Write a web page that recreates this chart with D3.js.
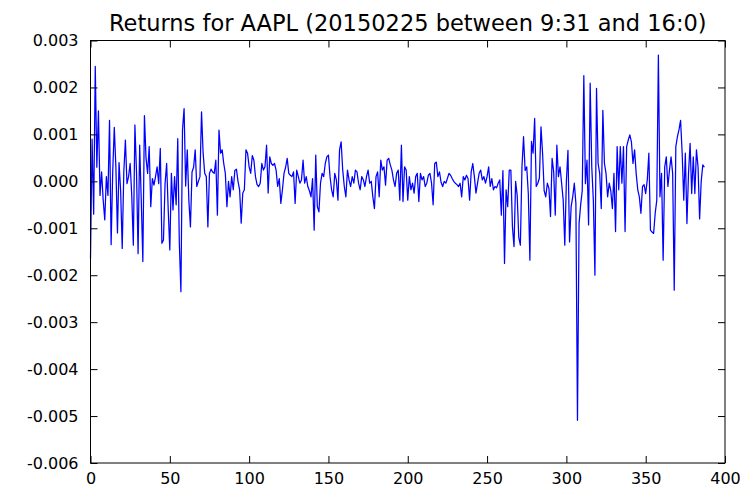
<!DOCTYPE html>
<html>
<head>
<meta charset="utf-8">
<script src="https://cdn.jsdelivr.net/npm/d3@7"></script>
<style>
html,body{margin:0;padding:0;background:#fff;}
svg{display:block;}
text{font-family:"DejaVu Sans",sans-serif;}
</style>
</head>
<body>
<script>
const titleText = "Returns for AAPL (20150225 between 9:31 and 16:0)";
const xTicks = [0, 50, 100, 150, 200, 250, 300, 350, 400];
const yTicks = [0.003, 0.002, 0.001, 0.000, -0.001, -0.002, -0.003, -0.004, -0.005, -0.006];
const returns = [
-0.00165,0.00090,-0.00070,0.00245,0.00030,0.00150,-0.00030,0.00020,-0.00040,-0.00082,
0.00010,-0.00030,0.00130,-0.00135,0.00020,0.00115,0.00030,-0.00110,0.00040,-0.00020,
-0.00143,0.00020,0.00088,-0.00005,0.00010,0.00038,-0.00030,-0.00136,0.00120,0.00020,
-0.00154,0.00077,-0.00040,-0.00171,0.00140,0.00050,0.00017,0.00074,-0.00054,0.00006,
-0.00008,0.00010,0.00031,-0.00005,0.00070,-0.00132,-0.00125,-0.00005,0.00038,-0.00061,
-0.00146,0.00017,-0.00061,0.00010,-0.00050,0.00091,-0.00132,-0.00235,0.00110,0.00155,
-0.00010,0.00067,-0.00040,-0.00097,0.00020,0.00030,0.00067,-0.00011,0.00000,0.00010,
0.00148,0.00060,0.00017,0.00010,-0.00097,0.00017,0.00026,0.00020,0.00017,0.00045,
-0.00072,0.00109,0.00060,0.00067,0.00038,0.00017,-0.00054,0.00000,-0.00033,0.00010,
-0.00018,0.00023,0.00026,0.00000,-0.00018,-0.00089,-0.00025,-0.00018,0.00067,0.00060,
0.00031,0.00017,0.00055,0.00045,0.00010,-0.00007,-0.00011,-0.00004,0.00038,0.00024,
0.00031,0.00077,-0.00025,0.00052,0.00038,0.00034,0.00038,0.00024,-0.00011,0.00006,
-0.00047,-0.00018,0.00017,0.00030,0.00049,0.00017,0.00013,0.00010,0.00020,-0.00047,
0.00024,0.00010,-0.00004,0.00003,0.00045,-0.00004,0.00010,-0.00011,-0.00020,-0.00033,
0.00006,-0.00104,0.00056,-0.00054,-0.00065,-0.00004,0.00017,0.00010,0.00038,0.00052,
0.00056,0.00010,-0.00018,-0.00033,0.00017,0.00003,-0.00040,0.00067,0.00084,0.00024,
-0.00011,-0.00033,0.00024,0.00003,-0.00011,0.00010,-0.00004,0.00024,0.00020,-0.00004,
-0.00018,0.00010,0.00003,-0.00011,0.00010,0.00024,-0.00004,0.00000,-0.00033,-0.00058,
0.00010,0.00020,-0.00033,0.00045,0.00024,0.00031,-0.00008,0.00045,0.00049,0.00035,
0.00024,0.00003,-0.00011,0.00017,0.00024,-0.00040,0.00077,-0.00043,0.00031,0.00024,
-0.00040,0.00010,-0.00018,-0.00004,-0.00025,0.00010,0.00017,-0.00043,0.00017,0.00003,
0.00010,-0.00011,-0.00004,0.00013,0.00017,-0.00004,-0.00050,0.00038,0.00041,0.00010,
0.00020,-0.00002,-0.00011,0.00000,-0.00004,0.00006,0.00017,0.00013,0.00006,0.00000,
-0.00004,-0.00007,-0.00011,-0.00004,-0.00033,0.00010,0.00003,0.00013,0.00006,-0.00040,
0.00020,0.00038,0.00010,-0.00025,-0.00004,0.00017,0.00024,0.00003,0.00010,-0.00004,
0.00010,0.00031,-0.00011,0.00006,-0.00018,-0.00011,-0.00014,-0.00004,0.00003,-0.00072,
0.00023,-0.00175,-0.00018,-0.00054,0.00024,0.00024,-0.00097,-0.00139,0.00000,-0.00030,
-0.00120,-0.00136,0.00030,0.00095,0.00023,0.00031,-0.00026,-0.00168,0.00085,0.00060,
0.00134,-0.00011,-0.00004,0.00007,0.00116,0.00060,-0.00020,-0.00033,-0.00004,-0.00015,
-0.00075,0.00049,0.00020,-0.00072,0.00077,0.00010,0.00031,-0.00004,-0.00040,-0.00136,
0.00000,0.00066,-0.00129,-0.00054,-0.00033,-0.00004,-0.00047,-0.00509,-0.00090,-0.00050,
-0.00020,0.00225,-0.00005,0.00045,-0.00093,0.00209,0.00031,-0.00040,-0.00200,0.00198,
0.00038,0.00017,-0.00058,0.00151,0.00038,0.00017,-0.00033,-0.00004,-0.00020,-0.00058,
0.00017,-0.00107,0.00074,-0.00018,0.00074,-0.00004,0.00074,-0.00107,0.00074,0.00088,
0.00099,0.00084,0.00038,0.00067,0.00017,-0.00018,-0.00033,-0.00068,-0.00011,-0.00007,
-0.00026,0.00003,0.00060,-0.00104,-0.00108,-0.00111,-0.00068,-0.00040,0.00269,-0.00033,
0.00017,-0.00168,0.00031,0.00052,-0.00011,0.00024,0.00052,0.00017,-0.00232,0.00074,
0.00095,0.00110,0.00130,0.00060,-0.00040,0.00060,-0.00090,0.00017,0.00081,-0.00026,
0.00052,-0.00026,0.00067,0.00031,-0.00080,0.00000,0.00035,0.00030
];

const W = 740, H = 487;
const m = {left: 90.5, right: 15, top: 40.5, bottom: 24};
const iw = W - m.left - m.right, ih = H - m.top - m.bottom;

const svg = d3.select("body").append("svg").attr("width", W).attr("height", H);
const g = svg.append("g").attr("transform", `translate(${m.left},${m.top})`);

const x = d3.scaleLinear().domain([0, 400]).range([0, iw]);
const y = d3.scaleLinear().domain([-0.006, 0.003]).range([ih, 0]);

const fmtY = d => d3.format(".3f")(d).replace("\u2212", "-");
const tickLen = 7;
const fs = "16px";

// line
g.append("path")
  .datum(returns)
  .attr("fill", "none")
  .attr("stroke", "#0000ff")
  .attr("stroke-width", 1.25)
  .attr("stroke-linejoin", "round")
  .attr("d", d3.line().x((d, i) => x(i)).y(d => y(d)));

// axes (ticks inward on all sides)
const styleAxis = sel => {
  sel.select(".domain").remove();
  sel.selectAll(".tick line").attr("stroke", "#000").attr("stroke-width", 1);
  sel.selectAll(".tick text").attr("font-size", fs).attr("font-family", "DejaVu Sans").attr("fill", "#000");
};

g.append("g").attr("transform", `translate(0,${ih})`)
  .call(d3.axisBottom(x).tickValues(xTicks).tickSize(-tickLen).tickPadding(10).tickFormat(d3.format("d")))
  .call(styleAxis);
g.append("g")
  .call(d3.axisTop(x).tickValues(xTicks).tickSize(-tickLen).tickFormat(""))
  .call(styleAxis);
g.append("g")
  .call(d3.axisLeft(y).tickValues(yTicks).tickSize(-tickLen).tickPadding(12).tickFormat(fmtY))
  .call(styleAxis);
g.append("g").attr("transform", `translate(${iw},0)`)
  .call(d3.axisRight(y).tickValues(yTicks).tickSize(-tickLen).tickFormat(""))
  .call(styleAxis);

// frame
g.append("rect").attr("x", 0).attr("y", 0).attr("width", iw).attr("height", ih)
  .attr("fill", "none").attr("stroke", "#000").attr("stroke-width", 1);

// title
svg.append("text")
  .attr("x", m.left + iw / 2).attr("y", 30.5)
  .attr("text-anchor", "middle")
  .attr("font-size", "22.5px")
  .attr("fill", "#000")
  .text(titleText);
</script>
</body>
</html>
